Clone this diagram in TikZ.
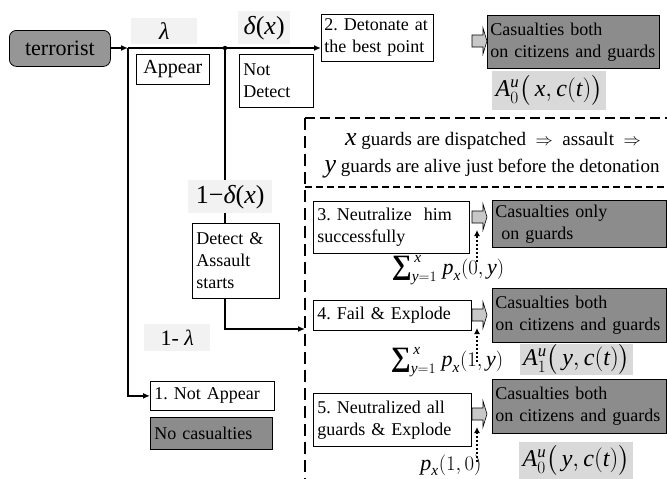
\documentclass[tikz,border=0pt]{standalone}
\usepackage{amsmath}
\usepackage{fontspec}
\setmainfont{Liberation Serif}
\usetikzlibrary{arrows.meta,calc}
\definecolor{termgray}{RGB}{150,150,150}
\definecolor{casgray}{RGB}{140,140,140}
\definecolor{lblgray}{RGB}{242,242,242}
\definecolor{agray}{RGB}{217,217,217}
\definecolor{bagray}{RGB}{200,200,200}
\tikzset{
  box/.style={draw, line width=0.8pt, fill=white, anchor=north west, inner xsep=4pt, inner ysep=0pt, align=left, font=\fontsize{18}{22}\selectfont},
  cas/.style={box, fill=casgray, inner xsep=3pt},
  lbl/.style={fill=lblgray, inner sep=0pt, anchor=north west, font=\fontsize{24}{26}\selectfont},
  albl/.style={fill=agray, inner sep=0pt, anchor=north west, font=\fontsize{24}{26}\selectfont},
  mlbl/.style={inner sep=0pt, font=\fontsize{22}{24}\selectfont},
  conn/.style={line width=1.8pt, draw=black},
  tip/.style={-{Latex[length=7pt,width=6pt]}},
  dotarrow/.style={line width=2pt, dash pattern=on 2pt off 2pt, -{Latex[length=6pt,width=6pt]}},
  barrow/.pic={\draw[fill=bagray, line width=0.6pt] (0,-6) -- (11,-6) -- (11,-13) -- (15,0) -- (11,13) -- (11,6) -- (0,6) -- cycle;}
}
\newcommand{\ivar}[1]{\textit{#1}}
\newcommand{\bigsum}{\text{\fontsize{28}{28}\selectfont\bfseries ∑}}
\begin{document}
\frenchspacing
\begin{tikzpicture}[x=1pt,y=-1pt]
\useasboundingbox (0,0) rectangle (667,479);
% boxes
\node[box, fill=termgray, rounded corners=7pt, align=center, minimum width=101pt, minimum height=36pt, font=\fontsize{22}{24}\selectfont] (t) at (9,30) {terrorist};
\node[box, align=center, minimum width=73pt, minimum height=30pt, font=\fontsize{20}{24}\selectfont] (ap) at (136,54) {Appear};
\node[box, text width=66pt, minimum height=53pt] (nd) at (239,54) {Not\\Detect};
\node[box, inner xsep=3pt, text width=106pt, minimum height=47pt] (b2) at (321,14) {2. Detonate at\\the best point};
\node[cas, text width=166pt, minimum height=53pt] (c2) at (487,15) {Casualties both\\on citizens and guards};
\node[box, text width=79pt, minimum height=75pt] (de) at (192,223) {Detect \&\\Assault\\starts};
\node[box, text width=148pt, minimum height=52pt] (b3) at (313,201) {3. Neutralize\ \ him\\successfully};
\node[box, text width=150pt, minimum height=30pt] (b4) at (313,300) {4. Fail \& Explode};
\node[box, text width=150pt, minimum height=53pt] (b5) at (313,393) {5. Neutralized all\\guards \& Explode};
\node[cas, text width=168pt, minimum height=47pt] (c3) at (492,200) {Casualties only\\\ on guards};
\node[cas, text width=168pt, minimum height=54pt] (c4) at (492,288) {Casualties both\\on citizens and guards};
\node[cas, text width=168pt, minimum height=54pt] (c5) at (492,379) {Casualties both\\on citizens and guards};
\node[box, text width=116pt, minimum height=29pt] (na) at (150,381) {1. Not Appear};
\node[box, fill=casgray, text width=114pt, minimum height=32pt] (nc) at (150,417) {No casualties};
% junctions
\coordinate (j1) at (128,48);
\coordinate (j2) at (225,48);
\coordinate (entry) at (305,329);
% connectors
\draw[conn, tip] (t.east |- j1) -- (j1);
\draw[conn] (j1) -- (j2);
\draw[conn, tip] (j2) -- (j2 -| b2.west);
\fill (j2) circle (2.2pt);
\draw[conn, tip] (j1) |- (na.west);
\draw[conn] (j2) -- (j2 |- de.north);
\draw[conn, tip] (j2 |- de.south) |- (entry);
% dashed frame
\coordinate (fa) at (305,479);
\coordinate (fb) at (305,118);
\coordinate (fc) at (667,118);
\coordinate (fd) at (305,187);
\coordinate (fe) at (667,187);
\draw[line width=1.3pt, dash pattern=on 10pt off 5pt] (fb) -- (fc);
\draw[line width=1.3pt, dash pattern=on 12pt off 6pt] (fb) -- (fa);
\draw[line width=1.2pt, dash pattern=on 7pt off 4pt] (fd) -- (fe);
\node[anchor=base, inner sep=0pt, font=\fontsize{19}{22}\selectfont] (h1) at (493,145) {{\fontsize{26}{26}\selectfont\itshape x} guards are dispatched\ \ $\Rightarrow$\ \ assault\ \ $\Rightarrow$};
\node[anchor=base, inner sep=0pt, font=\fontsize{19}{22}\selectfont] (h2) at (492,172) {{\fontsize{26}{26}\selectfont\itshape y} guards are alive just before the detonation};
% block arrows
\pic at (472,41) {barrow};
\pic at (472,217) {barrow};
\pic at (472,315) {barrow};
\pic at (472,414) {barrow};
% probability labels
\node[lbl, minimum width=66pt, minimum height=26pt] (lam) at (131,18) {\itshape λ};
\node[lbl, minimum width=52pt, minimum height=33pt, font=\fontsize{26}{28}\selectfont] (del) at (238,11) {{\itshape δ}(\ivar{x})};
\node[lbl, minimum width=84pt, minimum height=33pt, font=\fontsize{26}{28}\selectfont] (ndel) at (188,180) {1−{\itshape δ}(\ivar{x})};
\node[lbl, minimum width=66pt, minimum height=27pt, font=\fontsize{22}{24}\selectfont] (nlam) at (144,324) {1- {\itshape λ}};
% payoff labels
\node[albl, minimum width=114pt, minimum height=39pt] (a2) at (492,71) {$\ivar{A}^{\ivar{u}}_{0}\bigl(\,\ivar{x}, \ivar{c}(\ivar{t})\bigr)$};
\node[albl, minimum width=113pt, minimum height=31pt] (a4) at (520,344) {$\ivar{A}^{\ivar{u}}_{1}\bigl(\,\ivar{y}, \ivar{c}(\ivar{t})\bigr)$};
\node[albl, minimum width=114pt, minimum height=37pt] (a5) at (519,442) {$\ivar{A}^{\ivar{u}}_{0}\bigl(\,\ivar{y}, \ivar{c}(\ivar{t})\bigr)$};
% sigma labels
\node[mlbl] (s3) at (448,270) {$\bigsum_{\ivar{y}=1}^{\,\ivar{x}}\ \ivar{p}_{\ivar{x}}(0, \ivar{y})$};
\node[mlbl] (s4) at (447,362) {$\bigsum_{\ivar{y}=1}^{\,\ivar{x}}\ \ivar{p}_{\ivar{x}}(1, \ivar{y})$};
\node[mlbl] (s5) at (451,465) {$\ivar{p}_{\ivar{x}}(1,0)$};
% dotted arrows
\coordinate (d3a) at (477,262);
\coordinate (d3b) at (477,230);
\coordinate (d4a) at (477,362);
\coordinate (d4b) at (477,328);
\coordinate (d5a) at (477,462);
\coordinate (d5b) at (477,427);
\draw[dotarrow] (d3a) -- (d3b);
\draw[dotarrow] (d4a) -- (d4b);
\draw[dotarrow] (d5a) -- (d5b);
\end{tikzpicture}
\end{document}
